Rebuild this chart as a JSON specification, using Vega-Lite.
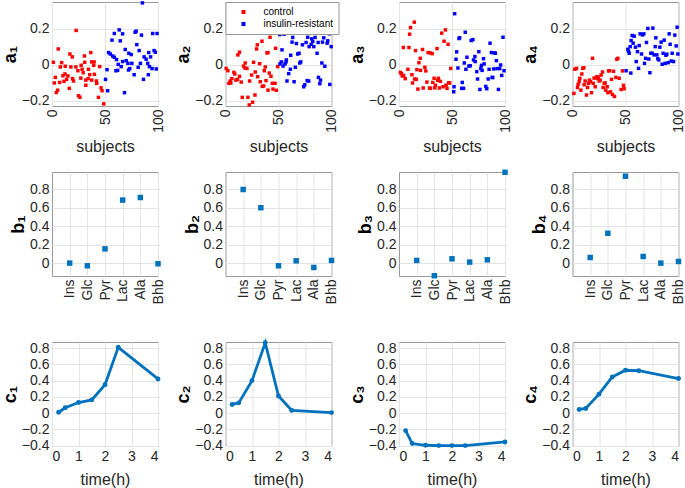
{
"$schema": "https://vega.github.io/schema/vega-lite/v6.json",
"background": "white",
"padding": {"left": 0, "top": 0, "right": 0, "bottom": 0},
"config": {
  "font": "Liberation Sans",
  "view": {"stroke": "#9a9a9a", "strokeWidth": 1},
  "axis": {"domain": false, "ticks": false, "grid": true, "gridColor": "#e4e4e4", "labelColor": "#262626", "labelFontSize": 14, "labelFont": "Liberation Sans", "titleFont": "Liberation Sans", "titleColor": "#262626", "titleFontSize": 16, "titleFontWeight": "normal", "labelPadding": 3},
  "axisY": {"titleFontWeight": "bold", "titleFontSize": 18, "titleColor": "#000000", "titlePadding": 2}
},
"datasets": {
  "A": [
{"p":"a1","g":"control","s":22.8,"v":0.192},{"p":"a1","g":"control","s":5.9,"v":0.089},{"p":"a1","g":"control","s":1.3,"v":0.015},{"p":"a1","g":"control","s":16.9,"v":0.061},{"p":"a1","g":"control","s":19.1,"v":0.045},{"p":"a1","g":"control","s":9.1,"v":0.013},{"p":"a1","g":"control","s":7.8,"v":-0.011},{"p":"a1","g":"control","s":3.1,"v":-0.069},{"p":"a1","g":"control","s":2.2,"v":-0.1},{"p":"a1","g":"control","s":5.3,"v":-0.14},{"p":"a1","g":"control","s":4.1,"v":-0.153},{"p":"a1","g":"control","s":7.2,"v":-0.097},{"p":"a1","g":"control","s":10.3,"v":-0.06},{"p":"a1","g":"control","s":12.2,"v":-0.05},{"p":"a1","g":"control","s":11.3,"v":-0.091},{"p":"a1","g":"control","s":12.5,"v":-0.007},{"p":"a1","g":"control","s":13.8,"v":-0.08},{"p":"a1","g":"control","s":17.8,"v":-0.011},{"p":"a1","g":"control","s":22.5,"v":-0.011},{"p":"a1","g":"control","s":20.3,"v":-0.089},{"p":"a1","g":"control","s":19.4,"v":-0.076},{"p":"a1","g":"control","s":16.3,"v":-0.13},{"p":"a1","g":"control","s":25,"v":-0.171},{"p":"a1","g":"control","s":26.3,"v":-0.179},{"p":"a1","g":"control","s":24.4,"v":-0.032},{"p":"a1","g":"control","s":27.5,"v":-0.002},{"p":"a1","g":"control","s":28.4,"v":-0.024},{"p":"a1","g":"control","s":30.6,"v":0.05},{"p":"a1","g":"control","s":29.4,"v":-0.043},{"p":"a1","g":"control","s":31.9,"v":-0.084},{"p":"a1","g":"control","s":31.9,"v":-0.113},{"p":"a1","g":"control","s":34.4,"v":-0.024},{"p":"a1","g":"control","s":34.1,"v":-0.076},{"p":"a1","g":"control","s":36.6,"v":0.069},{"p":"a1","g":"control","s":37.5,"v":0.017},{"p":"a1","g":"control","s":39.7,"v":0.017},{"p":"a1","g":"control","s":39.4,"v":-0.002},{"p":"a1","g":"control","s":37.5,"v":-0.084},{"p":"a1","g":"control","s":35.6,"v":-0.054},{"p":"a1","g":"control","s":40,"v":-0.052},{"p":"a1","g":"control","s":41.9,"v":-0.089},{"p":"a1","g":"control","s":42.2,"v":-0.102},{"p":"a1","g":"control","s":45,"v":-0.009},{"p":"a1","g":"control","s":46.3,"v":-0.127},{"p":"a1","g":"control","s":47.2,"v":-0.143},{"p":"a1","g":"control","s":43.8,"v":-0.18},{"p":"a1","g":"control","s":48.8,"v":-0.216},{"p":"a1","g":"control","s":30.9,"v":0.015},{"p":"a1","g":"control","s":27.2,"v":-0.073},{"p":"a1","g":"control","s":15,"v":-0.061},
{"p":"a1","g":"insulin-resistant","s":85.3,"v":0.345},{"p":"a1","g":"insulin-resistant","s":63.4,"v":0.195},{"p":"a1","g":"insulin-resistant","s":58.8,"v":0.175},{"p":"a1","g":"insulin-resistant","s":66.6,"v":0.173},{"p":"a1","g":"insulin-resistant","s":78.4,"v":0.182},{"p":"a1","g":"insulin-resistant","s":79.4,"v":0.188},{"p":"a1","g":"insulin-resistant","s":84.4,"v":0.166},{"p":"a1","g":"insulin-resistant","s":95,"v":0.175},{"p":"a1","g":"insulin-resistant","s":99.1,"v":0.175},{"p":"a1","g":"insulin-resistant","s":56.6,"v":0.138},{"p":"a1","g":"insulin-resistant","s":64.4,"v":0.134},{"p":"a1","g":"insulin-resistant","s":80,"v":0.113},{"p":"a1","g":"insulin-resistant","s":69.1,"v":0.086},{"p":"a1","g":"insulin-resistant","s":82.2,"v":0.08},{"p":"a1","g":"insulin-resistant","s":96.3,"v":0.08},{"p":"a1","g":"insulin-resistant","s":97.5,"v":0.071},{"p":"a1","g":"insulin-resistant","s":53.4,"v":0.069},{"p":"a1","g":"insulin-resistant","s":55,"v":0.061},{"p":"a1","g":"insulin-resistant","s":57.2,"v":0.05},{"p":"a1","g":"insulin-resistant","s":58.8,"v":0.043},{"p":"a1","g":"insulin-resistant","s":60.9,"v":0.03},{"p":"a1","g":"insulin-resistant","s":72.5,"v":0.065},{"p":"a1","g":"insulin-resistant","s":74.7,"v":0.058},{"p":"a1","g":"insulin-resistant","s":70,"v":0.024},{"p":"a1","g":"insulin-resistant","s":71.6,"v":0.009},{"p":"a1","g":"insulin-resistant","s":66.6,"v":0.019},{"p":"a1","g":"insulin-resistant","s":75.3,"v":0.009},{"p":"a1","g":"insulin-resistant","s":86.9,"v":0.045},{"p":"a1","g":"insulin-resistant","s":88.8,"v":0.032},{"p":"a1","g":"insulin-resistant","s":91.3,"v":0.069},{"p":"a1","g":"insulin-resistant","s":90.3,"v":0.009},{"p":"a1","g":"insulin-resistant","s":91.9,"v":-0.009},{"p":"a1","g":"insulin-resistant","s":94.4,"v":-0.02},{"p":"a1","g":"insulin-resistant","s":98.4,"v":-0.022},{"p":"a1","g":"insulin-resistant","s":83.4,"v":0.009},{"p":"a1","g":"insulin-resistant","s":81.3,"v":-0.013},{"p":"a1","g":"insulin-resistant","s":73.4,"v":-0.02},{"p":"a1","g":"insulin-resistant","s":72.2,"v":-0.028},{"p":"a1","g":"insulin-resistant","s":65.3,"v":-0.009},{"p":"a1","g":"insulin-resistant","s":61.9,"v":-0.03},{"p":"a1","g":"insulin-resistant","s":60.3,"v":-0.032},{"p":"a1","g":"insulin-resistant","s":51.9,"v":-0.026},{"p":"a1","g":"insulin-resistant","s":77.5,"v":-0.054},{"p":"a1","g":"insulin-resistant","s":90.9,"v":-0.054},{"p":"a1","g":"insulin-resistant","s":86.3,"v":-0.08},{"p":"a1","g":"insulin-resistant","s":50.5,"v":-0.08},{"p":"a1","g":"insulin-resistant","s":52.5,"v":-0.143},{"p":"a1","g":"insulin-resistant","s":68.4,"v":-0.154},{"p":"a1","g":"insulin-resistant","s":62.5,"v":0.003},{"p":"a1","g":"insulin-resistant","s":93,"v":0.045},
{"p":"a2","g":"control","s":0.6,"v":-0.019},{"p":"a2","g":"control","s":2.2,"v":-0.032},{"p":"a2","g":"control","s":3.2,"v":-0.102},{"p":"a2","g":"control","s":4.4,"v":-0.089},{"p":"a2","g":"control","s":6,"v":-0.076},{"p":"a2","g":"control","s":7.9,"v":-0.041},{"p":"a2","g":"control","s":8.8,"v":-0.05},{"p":"a2","g":"control","s":9.8,"v":-0.084},{"p":"a2","g":"control","s":11.4,"v":-0.08},{"p":"a2","g":"control","s":11.7,"v":0.056},{"p":"a2","g":"control","s":13.2,"v":0.071},{"p":"a2","g":"control","s":13.2,"v":-0.063},{"p":"a2","g":"control","s":14.8,"v":-0.095},{"p":"a2","g":"control","s":15.8,"v":-0.18},{"p":"a2","g":"control","s":17,"v":-0.006},{"p":"a2","g":"control","s":18.6,"v":0.011},{"p":"a2","g":"control","s":18.3,"v":-0.017},{"p":"a2","g":"control","s":20.2,"v":-0.019},{"p":"a2","g":"control","s":21.1,"v":-0.18},{"p":"a2","g":"control","s":22.4,"v":-0.222},{"p":"a2","g":"control","s":22.7,"v":-0.089},{"p":"a2","g":"control","s":24.6,"v":-0.056},{"p":"a2","g":"control","s":25.6,"v":-0.207},{"p":"a2","g":"control","s":26.5,"v":0.015},{"p":"a2","g":"control","s":27.8,"v":-0.167},{"p":"a2","g":"control","s":28.1,"v":-0.039},{"p":"a2","g":"control","s":29.3,"v":0.089},{"p":"a2","g":"control","s":30,"v":0.112},{"p":"a2","g":"control","s":30.3,"v":-0.065},{"p":"a2","g":"control","s":32.2,"v":0.007},{"p":"a2","g":"control","s":32.8,"v":-0.093},{"p":"a2","g":"control","s":34.4,"v":0.132},{"p":"a2","g":"control","s":34.7,"v":-0.119},{"p":"a2","g":"control","s":36,"v":-0.117},{"p":"a2","g":"control","s":36.6,"v":-0.032},{"p":"a2","g":"control","s":37.5,"v":-0.011},{"p":"a2","g":"control","s":38.2,"v":-0.087},{"p":"a2","g":"control","s":39.1,"v":0.067},{"p":"a2","g":"control","s":40.1,"v":-0.14},{"p":"a2","g":"control","s":41.3,"v":-0.045},{"p":"a2","g":"control","s":42,"v":0.154},{"p":"a2","g":"control","s":42.9,"v":-0.063},{"p":"a2","g":"control","s":44.2,"v":-0.102},{"p":"a2","g":"control","s":44.8,"v":-0.134},{"p":"a2","g":"control","s":46.7,"v":-0.102},{"p":"a2","g":"control","s":47.3,"v":0.093},{"p":"a2","g":"control","s":47.9,"v":-0.141},{"p":"a2","g":"control","s":49.2,"v":-0.009},{"p":"a2","g":"control","s":40.1,"v":0.069},{"p":"a2","g":"control","s":5,"v":-0.1},
{"p":"a2","g":"insulin-resistant","s":51.1,"v":0.169},{"p":"a2","g":"insulin-resistant","s":51.4,"v":0.006},{"p":"a2","g":"insulin-resistant","s":52.7,"v":0.017},{"p":"a2","g":"insulin-resistant","s":53.3,"v":0.084},{"p":"a2","g":"insulin-resistant","s":54.3,"v":-0.006},{"p":"a2","g":"insulin-resistant","s":55.2,"v":0.171},{"p":"a2","g":"insulin-resistant","s":56.2,"v":0.006},{"p":"a2","g":"insulin-resistant","s":57.1,"v":0.017},{"p":"a2","g":"insulin-resistant","s":57.4,"v":0.028},{"p":"a2","g":"insulin-resistant","s":58,"v":-0.089},{"p":"a2","g":"insulin-resistant","s":59.6,"v":-0.048},{"p":"a2","g":"insulin-resistant","s":61.2,"v":-0.024},{"p":"a2","g":"insulin-resistant","s":61.5,"v":0.054},{"p":"a2","g":"insulin-resistant","s":62.8,"v":0.127},{"p":"a2","g":"insulin-resistant","s":63.4,"v":0.153},{"p":"a2","g":"insulin-resistant","s":64.4,"v":0.18},{"p":"a2","g":"insulin-resistant","s":64.7,"v":-0.093},{"p":"a2","g":"insulin-resistant","s":65.9,"v":-0.013},{"p":"a2","g":"insulin-resistant","s":66.9,"v":0.119},{"p":"a2","g":"insulin-resistant","s":68.1,"v":0.061},{"p":"a2","g":"insulin-resistant","s":69.4,"v":0.065},{"p":"a2","g":"insulin-resistant","s":70,"v":0.011},{"p":"a2","g":"insulin-resistant","s":71,"v":0.017},{"p":"a2","g":"insulin-resistant","s":72.6,"v":0.112},{"p":"a2","g":"insulin-resistant","s":73.8,"v":-0.121},{"p":"a2","g":"insulin-resistant","s":74.8,"v":-0.11},{"p":"a2","g":"insulin-resistant","s":76,"v":0.125},{"p":"a2","g":"insulin-resistant","s":77,"v":-0.087},{"p":"a2","g":"insulin-resistant","s":77.6,"v":0.154},{"p":"a2","g":"insulin-resistant","s":78.5,"v":-0.089},{"p":"a2","g":"insulin-resistant","s":78.9,"v":0.102},{"p":"a2","g":"insulin-resistant","s":80.8,"v":0.115},{"p":"a2","g":"insulin-resistant","s":81.4,"v":0.145},{"p":"a2","g":"insulin-resistant","s":82.3,"v":0.13},{"p":"a2","g":"insulin-resistant","s":83.3,"v":0.102},{"p":"a2","g":"insulin-resistant","s":84.5,"v":0.153},{"p":"a2","g":"insulin-resistant","s":86.4,"v":0.065},{"p":"a2","g":"insulin-resistant","s":87.4,"v":0.125},{"p":"a2","g":"insulin-resistant","s":87.7,"v":-0.069},{"p":"a2","g":"insulin-resistant","s":89,"v":-0.104},{"p":"a2","g":"insulin-resistant","s":89.6,"v":-0.084},{"p":"a2","g":"insulin-resistant","s":90.9,"v":0.011},{"p":"a2","g":"insulin-resistant","s":91.5,"v":0.127},{"p":"a2","g":"insulin-resistant","s":92.7,"v":0.151},{"p":"a2","g":"insulin-resistant","s":93.7,"v":-0.007},{"p":"a2","g":"insulin-resistant","s":95.9,"v":0.121},{"p":"a2","g":"insulin-resistant","s":96.5,"v":0.134},{"p":"a2","g":"insulin-resistant","s":98.1,"v":0.173},{"p":"a2","g":"insulin-resistant","s":98.4,"v":-0.108},{"p":"a2","g":"insulin-resistant","s":99.7,"v":0.102},
{"p":"a3","g":"control","s":1.3,"v":-0.041},{"p":"a3","g":"control","s":2.2,"v":-0.048},{"p":"a3","g":"control","s":3.1,"v":-0.061},{"p":"a3","g":"control","s":4.4,"v":-0.058},{"p":"a3","g":"control","s":5.9,"v":-0.076},{"p":"a3","g":"control","s":4.1,"v":0.097},{"p":"a3","g":"control","s":9.4,"v":0.097},{"p":"a3","g":"control","s":10,"v":0.171},{"p":"a3","g":"control","s":10.9,"v":0.208},{"p":"a3","g":"control","s":14.4,"v":0.238},{"p":"a3","g":"control","s":8.4,"v":-0.024},{"p":"a3","g":"control","s":12.2,"v":-0.054},{"p":"a3","g":"control","s":12.8,"v":-0.1},{"p":"a3","g":"control","s":14.7,"v":-0.078},{"p":"a3","g":"control","s":16.3,"v":-0.08},{"p":"a3","g":"control","s":15.6,"v":0.08},{"p":"a3","g":"control","s":17.8,"v":-0.134},{"p":"a3","g":"control","s":16.9,"v":-0.026},{"p":"a3","g":"control","s":18.8,"v":0.013},{"p":"a3","g":"control","s":20,"v":0.037},{"p":"a3","g":"control","s":20.3,"v":-0.03},{"p":"a3","g":"control","s":22.2,"v":0.086},{"p":"a3","g":"control","s":22.8,"v":-0.128},{"p":"a3","g":"control","s":24.4,"v":-0.013},{"p":"a3","g":"control","s":25.3,"v":-0.033},{"p":"a3","g":"control","s":26.3,"v":-0.095},{"p":"a3","g":"control","s":27.5,"v":0.069},{"p":"a3","g":"control","s":28.8,"v":-0.128},{"p":"a3","g":"control","s":29.4,"v":0.067},{"p":"a3","g":"control","s":29.7,"v":-0.13},{"p":"a3","g":"control","s":31.3,"v":0.063},{"p":"a3","g":"control","s":31.9,"v":-0.097},{"p":"a3","g":"control","s":33.1,"v":-0.074},{"p":"a3","g":"control","s":33.8,"v":-0.127},{"p":"a3","g":"control","s":34.4,"v":-0.113},{"p":"a3","g":"control","s":35.9,"v":0.091},{"p":"a3","g":"control","s":36.6,"v":-0.086},{"p":"a3","g":"control","s":37.2,"v":-0.074},{"p":"a3","g":"control","s":38.1,"v":-0.128},{"p":"a3","g":"control","s":39.1,"v":-0.091},{"p":"a3","g":"control","s":40.3,"v":0.177},{"p":"a3","g":"control","s":41.6,"v":-0.121},{"p":"a3","g":"control","s":42.5,"v":0.132},{"p":"a3","g":"control","s":43.8,"v":0.195},{"p":"a3","g":"control","s":44.4,"v":-0.112},{"p":"a3","g":"control","s":45.3,"v":-0.13},{"p":"a3","g":"control","s":46.3,"v":0.115},{"p":"a3","g":"control","s":46.9,"v":-0.099},{"p":"a3","g":"control","s":48.8,"v":-0.019},{"p":"a3","g":"control","s":47.8,"v":-0.1},
{"p":"a3","g":"insulin-resistant","s":52.5,"v":0.285},{"p":"a3","g":"insulin-resistant","s":51.9,"v":-0.121},{"p":"a3","g":"insulin-resistant","s":51.6,"v":-0.149},{"p":"a3","g":"insulin-resistant","s":53.8,"v":0.032},{"p":"a3","g":"insulin-resistant","s":54.4,"v":0.073},{"p":"a3","g":"insulin-resistant","s":55.6,"v":-0.017},{"p":"a3","g":"insulin-resistant","s":56.6,"v":0.147},{"p":"a3","g":"insulin-resistant","s":57.2,"v":0.151},{"p":"a3","g":"insulin-resistant","s":59.7,"v":-0.097},{"p":"a3","g":"insulin-resistant","s":59.1,"v":-0.13},{"p":"a3","g":"insulin-resistant","s":60.9,"v":-0.13},{"p":"a3","g":"insulin-resistant","s":61.6,"v":0.011},{"p":"a3","g":"insulin-resistant","s":62.5,"v":0.182},{"p":"a3","g":"insulin-resistant","s":63.1,"v":-0.024},{"p":"a3","g":"insulin-resistant","s":64.1,"v":0.043},{"p":"a3","g":"insulin-resistant","s":65.9,"v":-0.006},{"p":"a3","g":"insulin-resistant","s":67.2,"v":-0.004},{"p":"a3","g":"insulin-resistant","s":68.1,"v":0.136},{"p":"a3","g":"insulin-resistant","s":69.7,"v":0.141},{"p":"a3","g":"insulin-resistant","s":70.3,"v":0.028},{"p":"a3","g":"insulin-resistant","s":71.6,"v":0.047},{"p":"a3","g":"insulin-resistant","s":71.9,"v":0.019},{"p":"a3","g":"insulin-resistant","s":73.4,"v":-0.037},{"p":"a3","g":"insulin-resistant","s":74.1,"v":-0.078},{"p":"a3","g":"insulin-resistant","s":75.3,"v":0.074},{"p":"a3","g":"insulin-resistant","s":76.3,"v":-0.136},{"p":"a3","g":"insulin-resistant","s":77.2,"v":-0.019},{"p":"a3","g":"insulin-resistant","s":77.8,"v":-0.002},{"p":"a3","g":"insulin-resistant","s":78.4,"v":-0.03},{"p":"a3","g":"insulin-resistant","s":79.7,"v":0.035},{"p":"a3","g":"insulin-resistant","s":80.3,"v":0.006},{"p":"a3","g":"insulin-resistant","s":81.9,"v":-0.119},{"p":"a3","g":"insulin-resistant","s":82.8,"v":-0.132},{"p":"a3","g":"insulin-resistant","s":84.1,"v":-0.078},{"p":"a3","g":"insulin-resistant","s":85.9,"v":0.121},{"p":"a3","g":"insulin-resistant","s":87.2,"v":0.069},{"p":"a3","g":"insulin-resistant","s":87.8,"v":-0.069},{"p":"a3","g":"insulin-resistant","s":89.4,"v":-0.022},{"p":"a3","g":"insulin-resistant","s":90.3,"v":0.067},{"p":"a3","g":"insulin-resistant","s":90.9,"v":0.065},{"p":"a3","g":"insulin-resistant","s":91.9,"v":0.024},{"p":"a3","g":"insulin-resistant","s":92.5,"v":-0.02},{"p":"a3","g":"insulin-resistant","s":93.8,"v":-0.136},{"p":"a3","g":"insulin-resistant","s":95,"v":-0.02},{"p":"a3","g":"insulin-resistant","s":95.9,"v":0},{"p":"a3","g":"insulin-resistant","s":96.9,"v":-0.058},{"p":"a3","g":"insulin-resistant","s":98.1,"v":0.154},{"p":"a3","g":"insulin-resistant","s":99.1,"v":-0.032},{"p":"a3","g":"insulin-resistant","s":85,"v":-0.024},{"p":"a3","g":"insulin-resistant","s":88.5,"v":-0.07},
{"p":"a4","g":"control","s":1.3,"v":-0.158},{"p":"a4","g":"control","s":2.2,"v":-0.024},{"p":"a4","g":"control","s":3.8,"v":-0.019},{"p":"a4","g":"control","s":4.7,"v":-0.125},{"p":"a4","g":"control","s":5.3,"v":-0.108},{"p":"a4","g":"control","s":6.3,"v":-0.093},{"p":"a4","g":"control","s":6.9,"v":-0.074},{"p":"a4","g":"control","s":7.9,"v":-0.14},{"p":"a4","g":"control","s":8.8,"v":-0.05},{"p":"a4","g":"control","s":9.7,"v":-0.019},{"p":"a4","g":"control","s":10.7,"v":-0.015},{"p":"a4","g":"control","s":11,"v":-0.11},{"p":"a4","g":"control","s":11.9,"v":-0.089},{"p":"a4","g":"control","s":13.2,"v":-0.167},{"p":"a4","g":"control","s":14.2,"v":-0.125},{"p":"a4","g":"control","s":15.1,"v":-0.102},{"p":"a4","g":"control","s":16,"v":-0.084},{"p":"a4","g":"control","s":17,"v":-0.093},{"p":"a4","g":"control","s":17.9,"v":-0.154},{"p":"a4","g":"control","s":18.9,"v":0.037},{"p":"a4","g":"control","s":19.5,"v":-0.102},{"p":"a4","g":"control","s":20.4,"v":-0.073},{"p":"a4","g":"control","s":21.4,"v":-0.121},{"p":"a4","g":"control","s":22.3,"v":-0.069},{"p":"a4","g":"control","s":23.3,"v":-0.065},{"p":"a4","g":"control","s":23.9,"v":-0.076},{"p":"a4","g":"control","s":24.5,"v":-0.071},{"p":"a4","g":"control","s":25.2,"v":-0.089},{"p":"a4","g":"control","s":26.1,"v":-0.084},{"p":"a4","g":"control","s":27,"v":-0.056},{"p":"a4","g":"control","s":28.3,"v":-0.039},{"p":"a4","g":"control","s":28.9,"v":-0.125},{"p":"a4","g":"control","s":29.9,"v":-0.102},{"p":"a4","g":"control","s":30.8,"v":-0.1},{"p":"a4","g":"control","s":31.4,"v":-0.14},{"p":"a4","g":"control","s":32.7,"v":-0.121},{"p":"a4","g":"control","s":33.3,"v":-0.154},{"p":"a4","g":"control","s":34,"v":-0.033},{"p":"a4","g":"control","s":34.9,"v":-0.032},{"p":"a4","g":"control","s":35.8,"v":-0.149},{"p":"a4","g":"control","s":36.8,"v":-0.08},{"p":"a4","g":"control","s":37.7,"v":-0.164},{"p":"a4","g":"control","s":38.7,"v":-0.035},{"p":"a4","g":"control","s":39.6,"v":-0.175},{"p":"a4","g":"control","s":40.9,"v":-0.069},{"p":"a4","g":"control","s":41.8,"v":0.032},{"p":"a4","g":"control","s":42.8,"v":0.037},{"p":"a4","g":"control","s":44,"v":-0.074},{"p":"a4","g":"control","s":45.9,"v":-0.136},{"p":"a4","g":"control","s":48.1,"v":-0.113},{"p":"a4","g":"control","s":48.7,"v":-0.132},{"p":"a4","g":"control","s":47.2,"v":-0.033},
{"p":"a4","g":"insulin-resistant","s":50.6,"v":-0.032},{"p":"a4","g":"insulin-resistant","s":52.2,"v":0.087},{"p":"a4","g":"insulin-resistant","s":52.8,"v":0.076},{"p":"a4","g":"insulin-resistant","s":53.5,"v":0.065},{"p":"a4","g":"insulin-resistant","s":54.4,"v":0.102},{"p":"a4","g":"insulin-resistant","s":55.3,"v":0.136},{"p":"a4","g":"insulin-resistant","s":55,"v":-0.045},{"p":"a4","g":"insulin-resistant","s":56.3,"v":0.164},{"p":"a4","g":"insulin-resistant","s":57.2,"v":0.121},{"p":"a4","g":"insulin-resistant","s":58.2,"v":0.16},{"p":"a4","g":"insulin-resistant","s":59.4,"v":0.099},{"p":"a4","g":"insulin-resistant","s":60.1,"v":0.019},{"p":"a4","g":"insulin-resistant","s":61.3,"v":0.074},{"p":"a4","g":"insulin-resistant","s":62.3,"v":-0.019},{"p":"a4","g":"insulin-resistant","s":62.9,"v":0.108},{"p":"a4","g":"insulin-resistant","s":63.8,"v":0.173},{"p":"a4","g":"insulin-resistant","s":65.1,"v":0.061},{"p":"a4","g":"insulin-resistant","s":66,"v":0.167},{"p":"a4","g":"insulin-resistant","s":67.3,"v":0.173},{"p":"a4","g":"insulin-resistant","s":67.9,"v":0.009},{"p":"a4","g":"insulin-resistant","s":68.9,"v":0.037},{"p":"a4","g":"insulin-resistant","s":69.8,"v":0.125},{"p":"a4","g":"insulin-resistant","s":71.1,"v":0.203},{"p":"a4","g":"insulin-resistant","s":72,"v":0.033},{"p":"a4","g":"insulin-resistant","s":73,"v":-0.043},{"p":"a4","g":"insulin-resistant","s":73.9,"v":0.065},{"p":"a4","g":"insulin-resistant","s":75.2,"v":0.065},{"p":"a4","g":"insulin-resistant","s":75.8,"v":0.205},{"p":"a4","g":"insulin-resistant","s":77,"v":0.056},{"p":"a4","g":"insulin-resistant","s":78,"v":0.102},{"p":"a4","g":"insulin-resistant","s":78.6,"v":0.151},{"p":"a4","g":"insulin-resistant","s":79.6,"v":0.056},{"p":"a4","g":"insulin-resistant","s":80.5,"v":0.035},{"p":"a4","g":"insulin-resistant","s":81.4,"v":0.028},{"p":"a4","g":"insulin-resistant","s":82.4,"v":0.099},{"p":"a4","g":"insulin-resistant","s":83.6,"v":0.127},{"p":"a4","g":"insulin-resistant","s":84.6,"v":0.004},{"p":"a4","g":"insulin-resistant","s":85.5,"v":0.065},{"p":"a4","g":"insulin-resistant","s":86.5,"v":0.138},{"p":"a4","g":"insulin-resistant","s":87.4,"v":0.009},{"p":"a4","g":"insulin-resistant","s":88.1,"v":0.054},{"p":"a4","g":"insulin-resistant","s":89,"v":0.06},{"p":"a4","g":"insulin-resistant","s":90.3,"v":0.013},{"p":"a4","g":"insulin-resistant","s":91.2,"v":0.173},{"p":"a4","g":"insulin-resistant","s":92.1,"v":0.115},{"p":"a4","g":"insulin-resistant","s":93.1,"v":0.022},{"p":"a4","g":"insulin-resistant","s":94,"v":0.065},{"p":"a4","g":"insulin-resistant","s":95.3,"v":0.019},{"p":"a4","g":"insulin-resistant","s":96.5,"v":0.166},{"p":"a4","g":"insulin-resistant","s":97.8,"v":0.106},{"p":"a4","g":"insulin-resistant","s":98.7,"v":0.21},{"p":"a4","g":"insulin-resistant","s":99.4,"v":0.061}
  ],
  "B": [
{"p":"b1","m":"Ins","v":0},{"p":"b1","m":"Glc","v":-0.029},{"p":"b1","m":"Pyr","v":0.155},{"p":"b1","m":"Lac","v":0.685},{"p":"b1","m":"Ala","v":0.713},{"p":"b1","m":"Bhb","v":-0.007},
{"p":"b2","m":"Ins","v":0.8},{"p":"b2","m":"Glc","v":0.602},{"p":"b2","m":"Pyr","v":-0.029},{"p":"b2","m":"Lac","v":0.025},{"p":"b2","m":"Ala","v":-0.047},{"p":"b2","m":"Bhb","v":0.029},
{"p":"b3","m":"Ins","v":0.029},{"p":"b3","m":"Glc","v":-0.137},{"p":"b3","m":"Pyr","v":0.047},{"p":"b3","m":"Lac","v":0.011},{"p":"b3","m":"Ala","v":0.036},{"p":"b3","m":"Bhb","v":0.987},
{"p":"b4","m":"Ins","v":0.061},{"p":"b4","m":"Glc","v":0.324},{"p":"b4","m":"Pyr","v":0.944},{"p":"b4","m":"Lac","v":0.072},{"p":"b4","m":"Ala","v":0},{"p":"b4","m":"Bhb","v":0.018}
  ],
  "C": [
{"p":"c1","t":0.25,"v":0.01},{"p":"c1","t":0.5,"v":0.065},{"p":"c1","t":1,"v":0.13},{"p":"c1","t":1.5,"v":0.163},{"p":"c1","t":2,"v":0.35},{"p":"c1","t":2.5,"v":0.81},{"p":"c1","t":4,"v":0.42},
{"p":"c2","t":0.25,"v":0.106},{"p":"c2","t":0.5,"v":0.126},{"p":"c2","t":1,"v":0.4},{"p":"c2","t":1.5,"v":0.865},{"p":"c2","t":2,"v":0.21},{"p":"c2","t":2.5,"v":0.033},{"p":"c2","t":4,"v":0.006},
{"p":"c3","t":0.25,"v":-0.216},{"p":"c3","t":0.5,"v":-0.375},{"p":"c3","t":1,"v":-0.396},{"p":"c3","t":1.5,"v":-0.4},{"p":"c3","t":2,"v":-0.4},{"p":"c3","t":2.5,"v":-0.4},{"p":"c3","t":4,"v":-0.355},
{"p":"c4","t":0.25,"v":0.045},{"p":"c4","t":0.5,"v":0.057},{"p":"c4","t":1,"v":0.233},{"p":"c4","t":1.5,"v":0.445},{"p":"c4","t":2,"v":0.527},{"p":"c4","t":2.5,"v":0.522},{"p":"c4","t":4,"v":0.425}
  ]
},
"resolve": {"scale": {"color": "independent"}, "legend": {"color": "independent"}},
"bounds": "flush",
"columns": 4,
"spacing": {"row": 66, "column": 67.5},
"concat": [
{"width":106,"height":104,"data":{"name":"A"},"transform":[{"filter":"datum.p == 'a1'"}],"mark":{"type":"square","size":12,"opacity":1},
 "encoding":{"x":{"field":"s","type":"quantitative","scale":{"domain":[0,100],"nice":false},"axis":{"values":[0,50,100],"labelAngle":-90,"title":"subjects","titlePadding":6}},
 "y":{"field":"v","type":"quantitative","scale":{"domain":[-0.228,0.35],"nice":false},"axis":{"values":[-0.2,0,0.2],"format":"~g","title":"a₁"}},
 "color":{"field":"g","type":"nominal","scale":{"domain":["control","insulin-resistant"],"range":["#ff0000","#0000ff"]},"legend":null}}},
{"width":106,"height":104,"data":{"name":"A"},"transform":[{"filter":"datum.p == 'a2'"}],"mark":{"type":"square","size":12,"opacity":1},
 "encoding":{"x":{"field":"s","type":"quantitative","scale":{"domain":[0,100],"nice":false},"axis":{"values":[0,50,100],"labelAngle":-90,"title":"subjects","titlePadding":6}},
 "y":{"field":"v","type":"quantitative","scale":{"domain":[-0.228,0.35],"nice":false},"axis":{"values":[-0.2,0,0.2],"format":"~g","title":"a₂"}},
 "color":{"field":"g","type":"nominal","scale":{"domain":["control","insulin-resistant"],"range":["#ff0000","#0000ff"]},"legend":{"title":null,"orient":"none","legendX":0,"legendY":0,"fillColor":"white","strokeColor":"#9a9a9a","padding":5,"symbolType":"square","symbolSize":16,"labelFontSize":10,"labelColor":"#000000","rowPadding":2,"symbolOffset":8,"labelOffset":15}}}},
{"width":106,"height":104,"data":{"name":"A"},"transform":[{"filter":"datum.p == 'a3'"}],"mark":{"type":"square","size":12,"opacity":1},
 "encoding":{"x":{"field":"s","type":"quantitative","scale":{"domain":[0,100],"nice":false},"axis":{"values":[0,50,100],"labelAngle":-90,"title":"subjects","titlePadding":6}},
 "y":{"field":"v","type":"quantitative","scale":{"domain":[-0.228,0.35],"nice":false},"axis":{"values":[-0.2,0,0.2],"format":"~g","title":"a₃"}},
 "color":{"field":"g","type":"nominal","scale":{"domain":["control","insulin-resistant"],"range":["#ff0000","#0000ff"]},"legend":null}}},
{"width":106,"height":104,"data":{"name":"A"},"transform":[{"filter":"datum.p == 'a4'"}],"mark":{"type":"square","size":12,"opacity":1},
 "encoding":{"x":{"field":"s","type":"quantitative","scale":{"domain":[0,100],"nice":false},"axis":{"values":[0,50,100],"labelAngle":-90,"title":"subjects","titlePadding":6}},
 "y":{"field":"v","type":"quantitative","scale":{"domain":[-0.228,0.35],"nice":false},"axis":{"values":[-0.2,0,0.2],"format":"~g","title":"a₄"}},
 "color":{"field":"g","type":"nominal","scale":{"domain":["control","insulin-resistant"],"range":["#ff0000","#0000ff"]},"legend":null}}},
{"width":106,"height":104,"data":{"name":"B"},"transform":[{"filter":"datum.p == 'b1'"}],"mark":{"type":"square","size":30,"color":"#0072BD","opacity":1},
 "encoding":{"x":{"field":"m","type":"nominal","sort":null,"scale":{"type":"point","domain":["Ins","Glc","Pyr","Lac","Ala","Bhb"],"paddingOuter":0.5,"align":1},"axis":{"labelAngle":-90,"title":null,"grid":true}},
 "y":{"field":"v","type":"quantitative","scale":{"domain":[-0.14,0.99],"nice":false},"axis":{"values":[0,0.2,0.4,0.6,0.8],"format":"~g","title":"b₁"}}}},
{"width":106,"height":104,"data":{"name":"B"},"transform":[{"filter":"datum.p == 'b2'"}],"mark":{"type":"square","size":30,"color":"#0072BD","opacity":1},
 "encoding":{"x":{"field":"m","type":"nominal","sort":null,"scale":{"type":"point","domain":["Ins","Glc","Pyr","Lac","Ala","Bhb"],"paddingOuter":0.5,"align":1},"axis":{"labelAngle":-90,"title":null,"grid":true}},
 "y":{"field":"v","type":"quantitative","scale":{"domain":[-0.14,0.99],"nice":false},"axis":{"values":[0,0.2,0.4,0.6,0.8],"format":"~g","title":"b₂"}}}},
{"width":106,"height":104,"data":{"name":"B"},"transform":[{"filter":"datum.p == 'b3'"}],"mark":{"type":"square","size":30,"color":"#0072BD","opacity":1},
 "encoding":{"x":{"field":"m","type":"nominal","sort":null,"scale":{"type":"point","domain":["Ins","Glc","Pyr","Lac","Ala","Bhb"],"paddingOuter":0.5,"align":1},"axis":{"labelAngle":-90,"title":null,"grid":true}},
 "y":{"field":"v","type":"quantitative","scale":{"domain":[-0.14,0.99],"nice":false},"axis":{"values":[0,0.2,0.4,0.6,0.8],"format":"~g","title":"b₃"}}}},
{"width":106,"height":104,"data":{"name":"B"},"transform":[{"filter":"datum.p == 'b4'"}],"mark":{"type":"square","size":30,"color":"#0072BD","opacity":1},
 "encoding":{"x":{"field":"m","type":"nominal","sort":null,"scale":{"type":"point","domain":["Ins","Glc","Pyr","Lac","Ala","Bhb"],"paddingOuter":0.5,"align":1},"axis":{"labelAngle":-90,"title":null,"grid":true}},
 "y":{"field":"v","type":"quantitative","scale":{"domain":[-0.14,0.99],"nice":false},"axis":{"values":[0,0.2,0.4,0.6,0.8],"format":"~g","title":"b₄"}}}},
{"width":106,"height":104,"data":{"name":"C"},"transform":[{"filter":"datum.p == 'c1'"}],"mark":{"type":"line","color":"#0072BD","strokeWidth":2.8,"point":{"filled":true,"size":24,"color":"#0072BD"}},
 "encoding":{"x":{"field":"t","type":"quantitative","scale":{"domain":[0,4],"nice":false},"axis":{"values":[0,1,2,3,4],"labelAngle":0,"title":"time(h)","titlePadding":8}},
 "y":{"field":"v","type":"quantitative","scale":{"domain":[-0.405,0.875],"nice":false},"axis":{"values":[-0.4,-0.2,0,0.2,0.4,0.6,0.8],"format":"~g","title":"c₁"}}}},
{"width":106,"height":104,"data":{"name":"C"},"transform":[{"filter":"datum.p == 'c2'"}],"mark":{"type":"line","color":"#0072BD","strokeWidth":2.8,"point":{"filled":true,"size":24,"color":"#0072BD"}},
 "encoding":{"x":{"field":"t","type":"quantitative","scale":{"domain":[0,4],"nice":false},"axis":{"values":[0,1,2,3,4],"labelAngle":0,"title":"time(h)","titlePadding":8}},
 "y":{"field":"v","type":"quantitative","scale":{"domain":[-0.405,0.875],"nice":false},"axis":{"values":[-0.4,-0.2,0,0.2,0.4,0.6,0.8],"format":"~g","title":"c₂"}}}},
{"width":106,"height":104,"data":{"name":"C"},"transform":[{"filter":"datum.p == 'c3'"}],"mark":{"type":"line","color":"#0072BD","strokeWidth":2.8,"point":{"filled":true,"size":24,"color":"#0072BD"}},
 "encoding":{"x":{"field":"t","type":"quantitative","scale":{"domain":[0,4],"nice":false},"axis":{"values":[0,1,2,3,4],"labelAngle":0,"title":"time(h)","titlePadding":8}},
 "y":{"field":"v","type":"quantitative","scale":{"domain":[-0.405,0.875],"nice":false},"axis":{"values":[-0.4,-0.2,0,0.2,0.4,0.6,0.8],"format":"~g","title":"c₃"}}}},
{"width":106,"height":104,"data":{"name":"C"},"transform":[{"filter":"datum.p == 'c4'"}],"mark":{"type":"line","color":"#0072BD","strokeWidth":2.8,"point":{"filled":true,"size":24,"color":"#0072BD"}},
 "encoding":{"x":{"field":"t","type":"quantitative","scale":{"domain":[0,4],"nice":false},"axis":{"values":[0,1,2,3,4],"labelAngle":0,"title":"time(h)","titlePadding":8}},
 "y":{"field":"v","type":"quantitative","scale":{"domain":[-0.405,0.875],"nice":false},"axis":{"values":[-0.4,-0.2,0,0.2,0.4,0.6,0.8],"format":"~g","title":"c₄"}}}}
]
}
